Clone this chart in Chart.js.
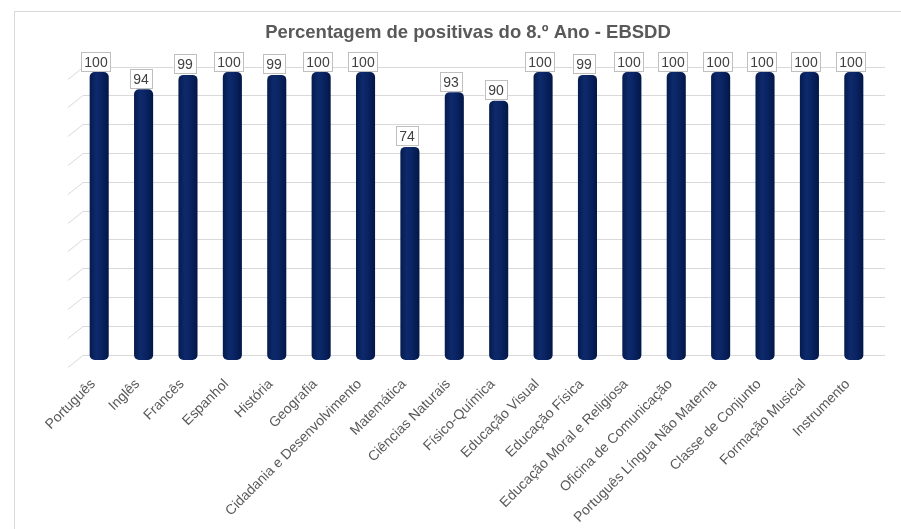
<!DOCTYPE html>
<html>
<head>
<meta charset="utf-8">
<script src="https://cdn.jsdelivr.net/npm/chart.js@4/dist/chart.umd.min.js"></script>
<style>
  html, body { margin: 0; padding: 0; background: #fff; }
  #wrap { width: 901px; height: 529px; position: relative; }
</style>
</head>
<body>
<div id="wrap"><canvas id="chart" width="901" height="529"></canvas></div>
<script>
const disciplinas = [
  "Português", "Inglês", "Francês", "Espanhol", "História", "Geografia",
  "Cidadania e Desenvolvimento", "Matemática", "Ciências Naturais", "Físico-Química",
  "Educação Visual", "Educação Física", "Educação Moral e Religiosa",
  "Oficina de Comunicação", "Português Língua Não Materna", "Classe de Conjunto",
  "Formação Musical", "Instrumento"
]
const positivas = [100, 94, 99, 100, 99, 100, 100, 74, 93, 90, 100, 99, 100, 100, 100, 100, 100, 100]
const gridValues = [0, 10, 20, 30, 40, 50, 60, 70, 80, 90, 100]

const FONT = "'Liberation Sans', Arial, sans-serif"

// cylinder-ish shading for each bar
function barFill(ctx) {
  const chart = ctx.chart
  if (!chart.chartArea || ctx.type !== "data") return "#0a2260"
  const x = chart.scales.x.getPixelForValue(ctx.dataIndex)
  const g = chart.ctx.createLinearGradient(x - 10, 0, x + 10, 0)
  g.addColorStop(0, "#031a4c")
  g.addColorStop(0.35, "#0e2a6c")
  g.addColorStop(0.6, "#0a2463")
  g.addColorStop(1, "#021645")
  return g
}

const backdrop = {
  id: "backdrop",
  beforeDraw(chart) {
    const c = chart.ctx
    c.save()
    c.strokeStyle = "#d9d9d9"
    c.lineWidth = 1
    c.strokeRect(14.5, 11.5, 900, 600)
    c.restore()
  },
  beforeDatasetsDraw(chart) {
    const c = chart.ctx
    const y = chart.scales.y
    const area = chart.chartArea
    c.save()
    c.strokeStyle = "#d9d9d9"
    c.lineWidth = 1
    gridValues.forEach(v => {
      const py = Math.round(y.getPixelForValue(v) - 5.5) + 0.5
      c.beginPath()
      c.moveTo(area.left - 9, py + 12)
      c.lineTo(area.left + 6, py)
      c.lineTo(area.right + 9, py)
      c.stroke()
    })
    c.restore()
  },
  afterDatasetsDraw(chart) {
    const c = chart.ctx
    const meta = chart.getDatasetMeta(0)
    c.save()
    c.font = "14px " + FONT
    c.textAlign = "center"
    c.textBaseline = "middle"
    meta.data.forEach((bar, i) => {
      const txt = String(positivas[i])
      const w = Math.round(c.measureText(txt).width) + 7
      const h = 20
      const cx = Math.round(bar.x - 3)
      const top = Math.round(bar.y - h - 0.5)
      c.fillStyle = "#fff"
      c.fillRect(cx - w / 2, top, w, h)
      c.strokeStyle = "#bfbfbf"
      c.strokeRect(Math.round(cx - w / 2) + 0.5, top + 0.5, w - 1, h - 1)
      c.fillStyle = "#404040"
      c.fillText(txt, cx, top + h / 2 + 1)
    })
    c.restore()
  }
}

new Chart(document.getElementById("chart"), {
  type: "bar",
  data: {
    labels: disciplinas,
    datasets: [
      {
        label: "Percentagem de positivas",
        data: positivas,
        backgroundColor: barFill,
        borderWidth: 0,
        borderRadius: 5,
        borderSkipped: false,
        barPercentage: 0.43,
        categoryPercentage: 1,
      },
    ],
  },
  options: {
    responsive: false,
    animation: false,
    layout: { padding: { left: 60, right: 25, top: 0, bottom: 0 } },
    plugins: {
      legend: { display: false },
      tooltip: { enabled: false },
      title: {
        display: true,
        text: "Percentagem de positivas do 8.º Ano - EBSDD",
        color: "#595959",
        font: { family: FONT, size: 18.5, weight: "bold" },
        padding: { top: 22, bottom: 27.8 },
      },
    },
    scales: {
      x: {
        grid: { display: false, drawTicks: false },
        border: { display: false },
        ticks: {
          autoSkip: false,
          maxRotation: 45,
          minRotation: 45,
          padding: 16,
          labelOffset: -6,
          color: "#595959",
          font: { family: FONT, size: 14 },
        },
        afterFit(scale) { scale.height = 169 },
      },
      y: {
        display: true,
        min: 0,
        max: 100,
        grid: { display: false, drawTicks: false },
        border: { display: false },
        ticks: { display: false },
        afterFit(scale) { scale.width = 17 },
      },
    },
  },
  plugins: [backdrop],
})
</script>
</body>
</html>
